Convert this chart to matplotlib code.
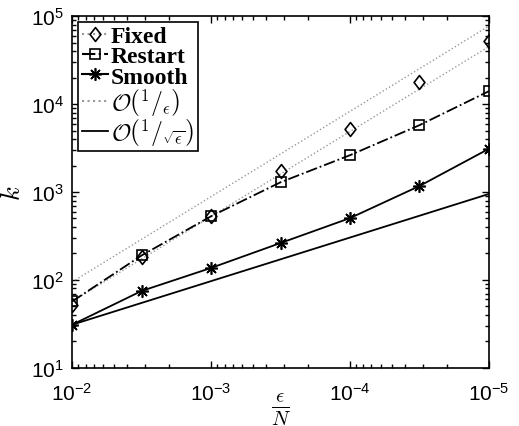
import numpy as np
import matplotlib.pyplot as plt
from matplotlib.lines import Line2D
from matplotlib.path import Path

plt.rcParams['mathtext.fontset'] = 'cm'
plt.rcParams['font.family'] = ['Liberation Sans', 'DejaVu Sans']

eps = [1e-2, 10**-2.5, 1e-3, 10**-3.5, 1e-4, 10**-4.5, 1e-5]
fixed = [52, 182, 530, 1740, 5200, 17800, 52000]
restart = [57, 190, 530, 1290, 2620, 5750, 14000]
smooth = [31, 75, 137, 263, 505, 1170, 3100]

ref_x = [1e-2, 1e-5]
ref_lin_hi = [95, 77000]
ref_lin_lo = [57, 45000]
ref_sqrt = [31, 950]

# matlab-like diamond, a bit taller than wide
diamond = Path([(0, 1), (0.78, 0), (0, -1), (-0.78, 0), (0, 1)],
               [Path.MOVETO, Path.LINETO, Path.LINETO, Path.LINETO, Path.CLOSEPOLY])
aster = (8, 2, 0)

fig = plt.figure(figsize=(5.19, 4.27), dpi=100)
ax = fig.add_axes([0.139, 0.136, 0.803, 0.824])

grey = '#999999'
ax.plot(ref_x, ref_lin_hi, ':', c=grey, lw=1)
ax.plot(ref_x, ref_lin_lo, ':', c=grey, lw=1)
ax.plot(ref_x, ref_sqrt, '-', c='k', lw=1.3)
ax.plot(eps, fixed, ls='none', marker=diamond, mfc='none', mec='k', ms=10, mew=1.2)
ax.plot(eps, restart, 's', ls='-.', c='k', mfc='none', ms=7.5, mew=1.2, lw=1.3)
ax.plot(eps, smooth, marker=aster, ls='-', c='k', ms=9, mew=1.2, lw=1.3)

ax.set_xscale('log')
ax.set_yscale('log')
ax.set_xlim(1e-2, 1e-5)
ax.set_ylim(1e1, 1e5)
ax.tick_params(which='both', direction='in', top=True, right=True, labelsize=15, width=1)
ax.tick_params(which='major', length=5)
ax.tick_params(which='minor', length=3)
ax.tick_params(axis='x', pad=10)
ax.tick_params(axis='y', pad=6)
for s in ax.spines.values():
    s.set_linewidth(1.2)

ax.set_xlabel(r'$\frac{\epsilon}{N}$', fontsize=21)
ax.xaxis.set_label_coords(0.5, -0.065)
ax.set_ylabel(r'$k$', fontsize=19, labelpad=4)

handles = [
    Line2D([], [], ls=':', c=grey, marker=diamond, mfc='none', mec='k', ms=10, mew=1.2),
    Line2D([], [], ls='-.', c='k', marker='s', mfc='none', ms=7.5, mew=1.2),
    Line2D([], [], ls='-', c='k', marker=aster, ms=9, mew=1.2),
    Line2D([], [], ls=':', c=grey),
    Line2D([], [], ls='-', c='k', lw=1.3),
]
labels = ['Fixed', 'Restart', 'Smooth',
          r'$\mathcal{O}\left(^1/_\epsilon\right)$',
          r'$\mathcal{O}\left(^1/_{\sqrt{\epsilon}}\right)$']
leg = ax.legend(handles, labels, loc='upper left', fancybox=False, edgecolor='k',
                framealpha=1, borderpad=0.15, handlelength=1.1, handletextpad=0.15,
                labelspacing=-0.05, borderaxespad=0.25,
                prop={'family': 'Liberation Serif', 'weight': 'bold', 'size': 17})
leg.get_frame().set_linewidth(1.2)

fig.savefig('out.png', dpi=100)
